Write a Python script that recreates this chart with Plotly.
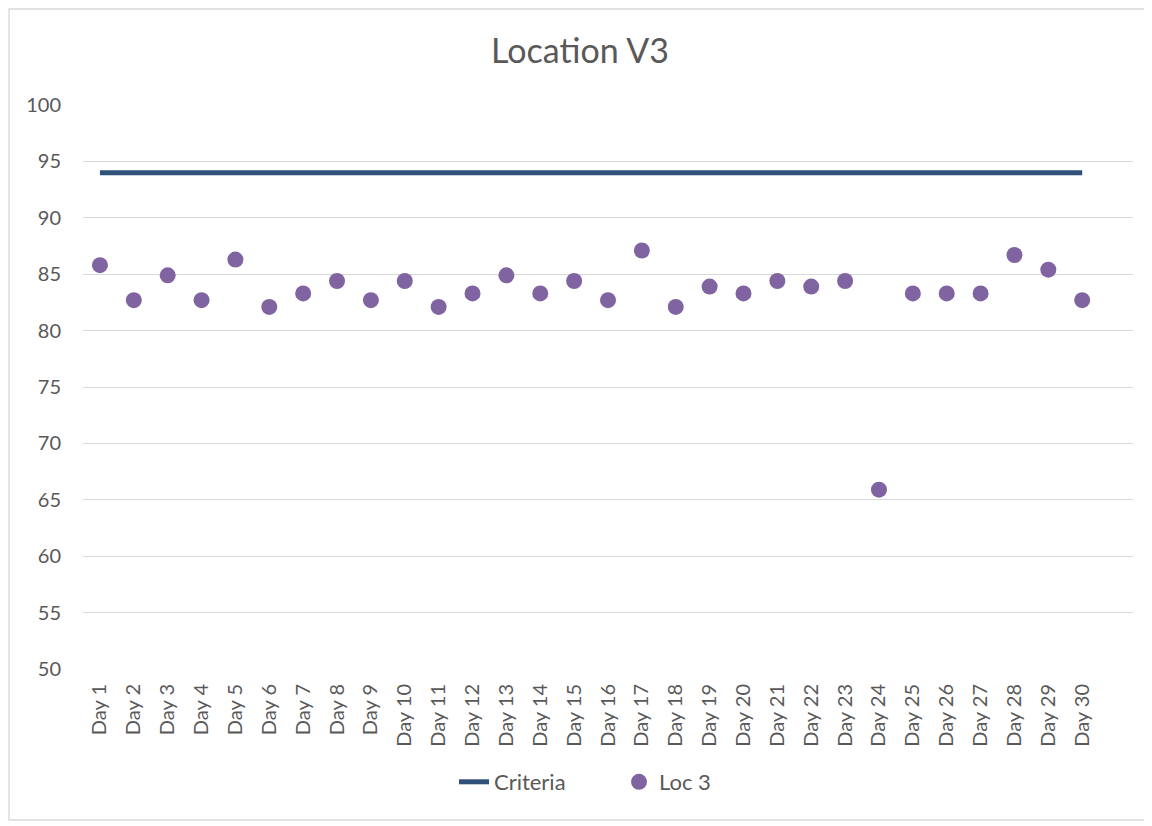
import plotly.graph_objects as go

days = [f"Day {i}" for i in range(1, 31)]
loc3 = [85.8, 82.7, 84.9, 82.7, 86.3, 82.1, 83.3, 84.4, 82.7, 84.4,
        82.1, 83.3, 84.9, 83.3, 84.4, 82.7, 87.1, 82.1, 83.9, 83.3,
        84.4, 83.9, 84.4, 65.9, 83.3, 83.3, 83.3, 86.7, 85.4, 82.7]
criteria = [94] * 30
y_ticks = [50, 55, 60, 65, 70, 75, 80, 85, 90, 95, 100]

xpos = list(range(1, 31))

fig = go.Figure()
fig.add_trace(go.Scatter(x=xpos, y=criteria, mode="lines", name="Criteria",
                         line=dict(color="#2F5078", width=5)))
fig.add_trace(go.Scatter(x=xpos, y=loc3, mode="markers", name="Loc 3",
                         marker=dict(color="#8064A2", size=16)))

font_family = "Lato, 'Open Sans', sans-serif"
W, H = 1144, 818
L, R, T, B = 75, 19, 97, 157
pw, ph = W - L - R, H - T - B
fig.update_layout(
    width=W, height=H,
    paper_bgcolor="white", plot_bgcolor="white",
    margin=dict(l=L, r=R, t=T, b=B),
    title=dict(text="Location V3", x=0.5, xanchor="center", y=1 - 43 / H, yanchor="middle",
               font=dict(family=font_family, size=34, color="#595959")),
    font=dict(family=font_family, size=17, color="#595959"),
    xaxis=dict(range=[0.5, 31.5], tickmode="array", tickvals=xpos, ticktext=days,
               tickangle=-90, showgrid=False, zeroline=False, showline=False,
               ticks="", ticklabelstandoff=10, tickfont=dict(size=20, color="#595959")),
    yaxis=dict(range=[50, 100], tickmode="array", tickvals=y_ticks,
               showgrid=True, gridcolor="#D9D9D9", gridwidth=1.3, zeroline=False,
               showline=False, ticks="", ticklabelstandoff=21,
               tickfont=dict(size=20, color="#595959")),
    showlegend=True,
    legend=dict(orientation="h", x=0.5 + 11 / pw, xanchor="center", y=-(782 - 669) / ph, yanchor="middle",
                entrywidth=120, entrywidthmode="pixels",
                font=dict(size=22, color="#595959")),
    shapes=[dict(type="rect", xref="paper", yref="paper",
                 x0=(1 - L) / pw, x1=(1140 - L) / pw, y0=(H - B - 812) / ph, y1=(H - B - 1) / ph,
                 line=dict(color="#D9D9D9", width=1.3), fillcolor="rgba(0,0,0,0)",
                 layer="below")]
)

fig.write_html("out.html")
